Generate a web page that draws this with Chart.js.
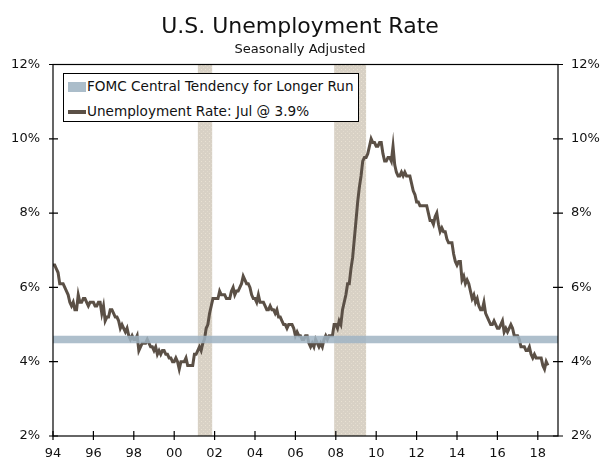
<!DOCTYPE html>
<html>
<head>
<meta charset="utf-8">
<script src="https://cdn.jsdelivr.net/npm/chart.js@4.4.0/dist/chart.umd.min.js"></script>
<style>
  body { margin: 0; background: #fff; }
  #wrap { position: relative; width: 600px; height: 469px; }
  #legend {
    position: absolute; left: 63px; top: 73px; width: 294px; height: 47px;
    background: #fff; border: 1px solid #000;
    font: 13.6px "DejaVu Sans", Verdana, sans-serif; color: #111;
  }
  #legend .row { position: absolute; left: 4px; height: 16px; line-height: 16px; white-space: nowrap; }
  #legend .sw { display: inline-block; vertical-align: middle; margin-right: 1px; }
</style>
</head>
<body>
<div id="wrap">
  <canvas id="urChart"></canvas>
  <div id="legend">
    <div class="row" style="top:4px"><span class="sw" style="width:18px;height:10px;background:#abbdca;"></span>FOMC Central Tendency for Longer Run</div>
    <div class="row" style="top:29px"><span class="sw" style="width:18px;height:4px;background:#5b5046;"></span>Unemployment Rate: Jul @ 3.9%</div>
  </div>
</div>
<script>
// monthly unemployment rate, Jan 1994 - Jul 2018
const startYear = 1994;
const unemploymentRate = [
  6.6, 6.6, 6.5, 6.4, 6.1, 6.1, 6.1, 6.0, 5.9, 5.8, 5.6, 5.5, // 94
  5.6, 5.4, 5.4, 5.8, 5.6, 5.6, 5.7, 5.7, 5.6, 5.5, 5.6, 5.6, // 95
  5.6, 5.5, 5.5, 5.6, 5.6, 5.3, 5.5, 5.1, 5.2, 5.2, 5.4, 5.4, // 96
  5.3, 5.2, 5.2, 5.1, 4.9, 5.0, 4.9, 4.8, 4.9, 4.7, 4.6, 4.7, // 97
  4.6, 4.6, 4.7, 4.3, 4.4, 4.5, 4.5, 4.5, 4.6, 4.5, 4.4, 4.4, // 98
  4.3, 4.4, 4.2, 4.3, 4.2, 4.3, 4.3, 4.2, 4.2, 4.1, 4.1, 4.0, // 99
  4.0, 4.1, 4.0, 3.8, 4.0, 4.0, 4.0, 4.1, 3.9, 3.9, 3.9, 3.9, // 00
  4.2, 4.2, 4.3, 4.4, 4.3, 4.5, 4.6, 4.9, 5.0, 5.3, 5.5, 5.7, // 01
  5.7, 5.7, 5.7, 5.9, 5.8, 5.8, 5.8, 5.7, 5.7, 5.7, 5.9, 6.0, // 02
  5.8, 5.9, 5.9, 6.0, 6.1, 6.3, 6.2, 6.1, 6.1, 6.0, 5.8, 5.7, // 03
  5.7, 5.6, 5.8, 5.6, 5.6, 5.6, 5.5, 5.4, 5.4, 5.5, 5.4, 5.4, // 04
  5.3, 5.4, 5.2, 5.2, 5.1, 5.0, 5.0, 4.9, 5.0, 5.0, 5.0, 4.9, // 05
  4.7, 4.8, 4.7, 4.7, 4.6, 4.6, 4.7, 4.7, 4.5, 4.4, 4.5, 4.4, // 06
  4.6, 4.5, 4.4, 4.5, 4.4, 4.6, 4.7, 4.6, 4.7, 4.7, 4.7, 5.0, // 07
  5.0, 4.9, 5.1, 5.0, 5.4, 5.6, 5.8, 6.1, 6.1, 6.5, 6.8, 7.3, // 08
  7.8, 8.3, 8.7, 9.0, 9.4, 9.5, 9.5, 9.6, 9.8, 10.0, 9.9, 9.9, // 09
  9.8, 9.8, 9.9, 9.9, 9.6, 9.4, 9.4, 9.5, 9.5, 9.4, 9.8, 9.3, // 10
  9.1, 9.0, 9.0, 9.1, 9.0, 9.1, 9.0, 9.0, 9.0, 8.8, 8.6, 8.5, // 11
  8.3, 8.3, 8.2, 8.2, 8.2, 8.2, 8.2, 8.0, 7.8, 7.8, 7.7, 7.9, // 12
  8.0, 7.7, 7.5, 7.6, 7.5, 7.5, 7.3, 7.2, 7.2, 7.2, 6.9, 6.7, // 13
  6.6, 6.7, 6.7, 6.2, 6.3, 6.1, 6.2, 6.1, 5.9, 5.7, 5.8, 5.6, // 14
  5.7, 5.5, 5.4, 5.4, 5.6, 5.3, 5.2, 5.1, 5.0, 5.0, 5.1, 5.0, // 15
  4.9, 4.9, 5.0, 5.1, 4.8, 4.9, 4.8, 4.9, 5.0, 4.9, 4.7, 4.7, // 16
  4.7, 4.6, 4.4, 4.4, 4.4, 4.3, 4.3, 4.4, 4.2, 4.1, 4.2, 4.1, // 17
  4.1, 4.1, 4.1, 3.9, 3.8, 4.0, 3.9                           // 18
];
// FOMC central tendency band (low / high)
const fomcLow = 4.5;
const fomcHigh = 4.7;
// recessions as [start, end] in decimal years
const recessions = [[2001.17, 2001.88], [2007.92, 2009.5]];
const xMin = 1994, xMax = 2019;
const yTicks = [2, 4, 6, 8, 10, 12];

const ratePoints = unemploymentRate.map((v, i) => ({ x: startYear + i / 12, y: v }));

var dotPattern = (function () {
  const c = document.createElement('canvas');
  c.width = 4; c.height = 4;
  const g = c.getContext('2d');
  g.fillStyle = '#d8d1c5';
  g.fillRect(0, 0, 4, 4);
  g.fillStyle = '#e9e1d2';
  g.fillRect(1, 1, 1, 1);
  g.fillStyle = '#e2dbcf';
  g.fillRect(3, 3, 1, 1);
  return g.createPattern(c, 'repeat');
})();

const recessionPlugin = {
  id: 'recessions',
  beforeDatasetsDraw(chart) {
    const { ctx, chartArea, scales } = chart;
    ctx.save();
    ctx.fillStyle = dotPattern;
    recessions.forEach(r => {
      const x0 = scales.x.getPixelForValue(r[0]);
      const x1 = scales.x.getPixelForValue(r[1]);
      ctx.fillRect(x0, chartArea.top, x1 - x0, chartArea.bottom - chartArea.top);
    });
    ctx.restore();
  }
};

// frame + tick marks that cross the axis
const framePlugin = {
  id: 'frame',
  afterDraw(chart) {
    const { ctx, chartArea, scales } = chart;
    ctx.save();
    ctx.strokeStyle = '#000';
    ctx.lineWidth = 1.2;
    ctx.strokeRect(chartArea.left, chartArea.top, chartArea.right - chartArea.left, chartArea.bottom - chartArea.top);
    ctx.beginPath();
    scales.x.ticks.forEach(t => {
      const px = scales.x.getPixelForValue(t.value);
      ctx.moveTo(px, chartArea.bottom - 5);
      ctx.lineTo(px, chartArea.bottom + 4);
    });
    scales.y.ticks.forEach(t => {
      const py = scales.y.getPixelForValue(t.value);
      ctx.moveTo(chartArea.left - 4, py);
      ctx.lineTo(chartArea.left + 5, py);
      ctx.moveTo(chartArea.right - 5, py);
      ctx.lineTo(chartArea.right + 5, py);
    });
    ctx.stroke();
    ctx.restore();
  }
};

const tickFont = { family: '"DejaVu Sans", Verdana, sans-serif', size: 13 };

const yAxis = (pos, w) => ({
  type: 'linear',
  position: pos,
  min: 2,
  max: 12,
  afterBuildTicks: s => { s.ticks = yTicks.map(v => ({ value: v })); },
  ticks: { callback: v => v + '%', color: '#111', font: tickFont, padding: 13 },
  grid: { display: false, drawTicks: false },
  border: { display: false },
  afterFit: s => { s.width = w; }
});

new Chart(document.getElementById('urChart'), {
  type: 'line',
  data: {
    datasets: [
      {
        label: 'FOMC low',
        data: [{ x: xMin, y: fomcLow }, { x: xMax, y: fomcLow }],
        borderWidth: 0,
        pointRadius: 0,
        fill: false
      },
      {
        label: 'FOMC Central Tendency for Longer Run',
        data: [{ x: xMin, y: fomcHigh }, { x: xMax, y: fomcHigh }],
        borderWidth: 0,
        pointRadius: 0,
        backgroundColor: 'rgba(160, 180, 195, 0.85)',
        fill: '-1'
      },
      {
        label: 'Unemployment Rate: Jul @ 3.9%',
        data: ratePoints,
        borderColor: '#5b5046',
        borderWidth: 3,
        pointRadius: 0,
        tension: 0,
        fill: false
      }
    ]
  },
  options: {
    responsive: true,
    maintainAspectRatio: false,
    animation: false,
    layout: { padding: { top: 0, right: 0, left: 0, bottom: 0 } },
    plugins: {
      legend: { display: false },
      tooltip: { enabled: false },
      title: {
        display: true,
        text: 'U.S. Unemployment Rate',
        color: '#111',
        font: { family: '"DejaVu Sans", Verdana, sans-serif', size: 22, weight: 'normal' },
        padding: { top: 14, bottom: 1 }
      },
      subtitle: {
        display: true,
        text: 'Seasonally Adjusted',
        color: '#111',
        font: { family: '"DejaVu Sans", Verdana, sans-serif', size: 13, weight: 'normal' },
        padding: { top: 0, bottom: 7.5 }
      }
    },
    scales: {
      x: {
        type: 'linear',
        min: xMin,
        max: xMax,
        afterBuildTicks: s => {
          const t = [];
          for (let y = startYear; y <= 2018; y += 2) t.push({ value: y });
          s.ticks = t;
        },
        ticks: {
          callback: v => String(v % 100).padStart(2, '0'),
          color: '#111',
          font: tickFont,
          padding: 10,
          maxRotation: 0,
          autoSkip: false
        },
        grid: { display: false, drawTicks: false },
        border: { display: false },
        afterFit: s => { s.height = 33; }
      },
      y: yAxis('left', 53),
      y2: yAxis('right', 42)
    }
  },
  plugins: [recessionPlugin, framePlugin]
});
</script>
</body>
</html>
